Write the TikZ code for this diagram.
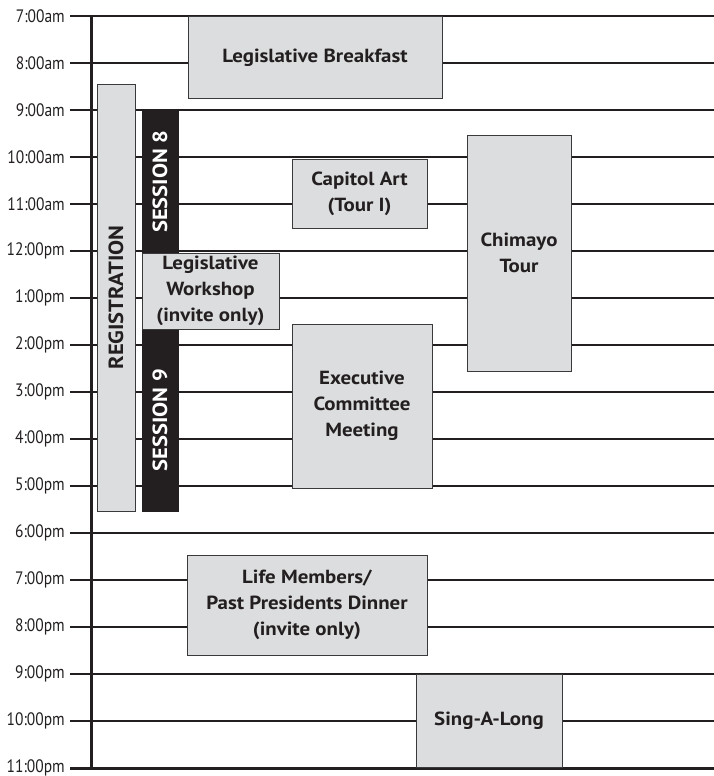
\documentclass[tikz,border=0pt]{standalone}
\usepackage{fontspec}
\setmainfont{PT Sans}
\newfontfamily\timefont[FakeStretch=0.86]{PT Sans}
\newfontfamily\boxfont[FakeStretch=1.1]{PT Sans}
\definecolor{ink}{HTML}{231F20}
\definecolor{boxgray}{HTML}{DCDDDE}
\definecolor{edge}{HTML}{3A3A3A}
\begin{document}
\begin{tikzpicture}[x=1pt,y=-1pt,
  gridline/.style={draw=ink, line width=2pt},
  heavyline/.style={draw=ink, line width=3pt},
  timelabel/.style={anchor=east, inner sep=0pt, text=ink, font=\timefont\fontsize{18}{20}\selectfont},
  evbox/.style={draw=edge, line width=1pt, fill=boxgray, text=ink, align=center, inner sep=0pt,
     font=\boxfont\bfseries\fontsize{19}{26}\selectfont},
  sessbar/.style={draw=ink, line width=0.6pt, fill=ink, text=white, inner sep=0pt},
  vlabel/.style={rotate=90, inner sep=0pt, font=\boxfont\bfseries\fontsize{20.5}{22}\selectfont}
]
\useasboundingbox (0,0) rectangle (714,776);
% hour grid
\foreach \i/\t in {0/7:00am,1/8:00am,2/9:00am,3/10:00am,4/11:00am,5/12:00pm,6/1:00pm,7/2:00pm,8/3:00pm,9/4:00pm,10/5:00pm,11/6:00pm,12/7:00pm,13/8:00pm,14/9:00pm,15/10:00pm,16/11:00pm}{
  \coordinate (h\i) at (70,16+47*\i);
  \coordinate (e\i) at (714,16+47*\i);
  \node[timelabel] (t\i) at (65,16+47*\i) {\t};
}
\foreach \i in {1,...,15}{ \draw[gridline] (h\i) -- (e\i); }
\draw[gridline] (h0) -- (e0);
\draw[heavyline] (h16) -- (e16);
\coordinate (axtop) at (91,15);
\coordinate (axbot) at (91,769);
\draw[heavyline] (axtop) -- (axbot);

% events
\node[evbox, minimum width=254, minimum height=81] (breakfast) at (315,57.5) {Legislative Breakfast};
\node[evbox, minimum width=38, minimum height=427] (reg) at (116,297.5) {};
\node[vlabel, text=ink] (regtxt) at (reg.center) {REGISTRATION};
\node[sessbar, minimum width=36, minimum height=141] (s8) at (160,181.5) {};
\node[vlabel, text=white] (s8txt) at (s8.center) {SESSION 8};
\node[sessbar, minimum width=36, minimum height=182] (s9) at (160,420) {};
\node[vlabel, text=white] (s9txt) at (s9.center) {SESSION 9};
\node[evbox, minimum width=137, minimum height=76] (workshop) at (210.5,291) {Legislative\\Workshop\\(invite only)};
\node[evbox, minimum width=135, minimum height=69] (capitol) at (359.5,193.5) {Capitol Art\\(Tour I)};
\node[evbox, minimum width=104, minimum height=236] (chimayo) at (519,253) {Chimayo\\Tour};
\node[evbox, minimum width=140, minimum height=164] (exec) at (362,406) {Executive\\Committee\\Meeting};
\node[evbox, minimum width=240, minimum height=100] (life) at (307,605) {Life Members/\\Past Presidents Dinner\\(invite only)};
\node[evbox, minimum width=146, minimum height=93] (sing) at (489,720.5) {Sing-A-Long};
\end{tikzpicture}
\end{document}
